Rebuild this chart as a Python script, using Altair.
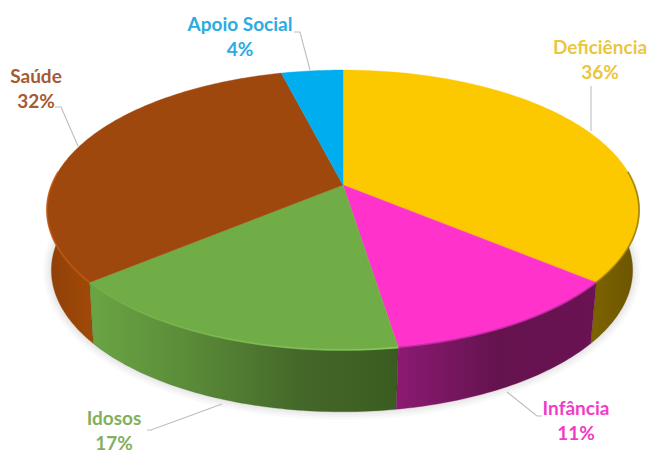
import math
import altair as alt

names = ["Deficiência", "Infância", "Idosos", "Saúde", "Apoio Social"]
percents = [36, 11, 17, 32, 4]
shares = [36.0, 11.5, 16.5, 32.0, 4.0]
top_colors = ["#fcc800", "#ff33cc", "#70ad47", "#9e480e", "#00adef"]
rim_colors = [["#8a7000", "#8a7000"], ["#b5249a", "#b5249a"], ["#70ad47", "#92d563"], ["#c8560f", "#c8560f"]]
text_colors = ["#ebc63f", "#f23cc8", "#82b060", "#a55a35", "#2aabe2"]
wall_stops = [
    ["#7d6300", "#6b5400"],
    ["#8c1a72", "#65134f", "#6a1252"],
    ["#6aa544", "#5a8a38", "#45692a", "#3a5c20"],
    ["#8f3f07", "#a04a08"],
    ["#00adef", "#00adef"],
]
label_xy = [(600, 48), (576, 409), (114, 419), (36, 77), (240, 25)]
leaders = [
    [(591, 86), (591, 131)],
    [(542, 416), (537, 416), (507, 392)],
    [(147, 430), (151, 430), (222, 404)],
    [(55, 107), (61, 107), (78, 146)],
    [(294, 32), (300, 32), (310, 70)],
]


def project(theta, cx, cy, h, r):
    k = 0.1786
    u, v = math.sin(theta), math.cos(theta)
    d = 1 + k * v
    return [cx + r * u / d, cy - h * v / d]


def top(theta):
    return project(theta, 343, 185, 135.5, 291.3)


def bottom(theta):
    return project(theta, 342, 245, 137, 286)


def arc(fn, a, b):
    n = max(2, int(abs(b - a) * 60))
    return [fn(a + (b - a) * i / n) for i in range(n + 1)]


def polygon(points):
    return {"type": "Feature", "properties": {},
            "geometry": {"type": "Polygon", "coordinates": [points + [points[0]]]}}


def linestring(points):
    return {"type": "Feature", "properties": {},
            "geometry": {"type": "LineString", "coordinates": [list(p) for p in points]}}


def ramp(stops):
    return alt.Gradient(
        gradient="linear", x1=0, x2=1, y1=0, y2=0,
        stops=[alt.GradientStop(offset=j / (len(stops) - 1), color=c) for j, c in enumerate(stops)],
    )


projection = alt.Projection(type="identity", scale=1, translate=[-8, -8])


def geo(feature, **mark):
    return alt.Chart(alt.Data(values=[feature])).mark_geoshape(**mark).project(**projection.to_dict())


total = sum(shares)
edges = [0.0]
for s in shares:
    edges.append(edges[-1] + s / total * 2 * math.pi)

layers = []
whole = arc(bottom, 0, 2 * math.pi)
for width in [16, 11, 7, 3]:
    layers.append(geo(polygon(whole), fill="#000000", fillOpacity=0.0, stroke="#000000",
                      strokeOpacity=0.022, strokeWidth=width))

front_a, front_b = math.pi / 2, 3 * math.pi / 2
for i in [3, 0, 2, 1]:
    a, b = max(edges[i], front_a), min(edges[i + 1], front_b)
    if a >= b:
        continue
    pts = arc(top, a, b) + arc(bottom, b, a)
    stops = wall_stops[i]
    layers.append(geo(polygon(pts), fill=ramp(stops), stroke=stops[-1], strokeWidth=0.3))

for i in range(5):
    a, b = edges[i], edges[i + 1]
    pts = [[343, 185]] + arc(top, a, b)
    layers.append(geo(polygon(pts), fill=top_colors[i], stroke=top_colors[i], strokeWidth=0.4))

for i in range(4):
    a, b = max(edges[i], front_a - 0.1), min(edges[i + 1], front_b + 0.1)
    if a < b:
        layers.append(geo(linestring(arc(top, a, b)), filled=False, stroke=ramp(rim_colors[i]),
                          strokeWidth=1.8, strokeOpacity=0.7))

for points in leaders:
    layers.append(geo(linestring(points), filled=False, stroke="#bdbdbd", strokeWidth=1.1))

rows = [
    {"label": f"{n}\n{p}%", "lon": xy[0], "lat": xy[1], "color": c}
    for n, p, xy, c in zip(names, percents, label_xy, text_colors)
]
labels = alt.Chart(alt.Data(values=rows)).mark_text(
    font="Lato", fontWeight="bold", fontSize=19, lineBreak="\n", lineHeight=25,
    align="center", baseline="middle", clip=False,
).encode(
    longitude="lon:Q", latitude="lat:Q", text="label:N",
    color=alt.Color("color:N", scale=None),
).project(**projection.to_dict())

chart = alt.layer(*layers, labels).properties(
    width=639, height=447, padding=0, autosize=alt.AutoSizeParams(type="none"),
    background="#ffffff",
).configure_view(stroke=None)

chart.save("out.html", embed_options={"renderer": "svg", "actions": False})
